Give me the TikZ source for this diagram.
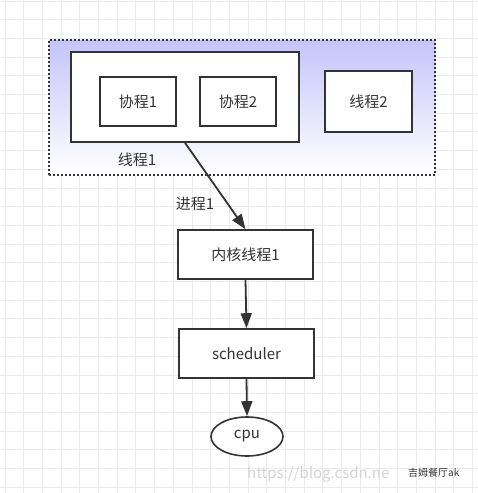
\documentclass[tikz,border=0pt]{standalone}
\usepackage{fontspec}
\setmainfont{Noto Sans CJK SC}
\usetikzlibrary{arrows.meta,positioning,shapes.geometric}
\definecolor{ink}{HTML}{333333}
\definecolor{gridc}{HTML}{EBEBEB}
\definecolor{lav}{HTML}{C4C4FB}
\definecolor{mark}{HTML}{D4D4D4}

\begin{document}
\begin{tikzpicture}[x=1pt,y=-1pt,
  box/.style={draw=ink,line width=1.6pt,fill=white,font=\fontsize{15}{17}\selectfont,text=ink},
  procbox/.style={draw=ink,line width=1.8pt,dash pattern=on 1.8pt off 2.2pt,top color=lav,bottom color=white},
  flow/.style={draw=ink,line width=1.8pt,-{Triangle[length=15pt,width=11pt]}},
  tag/.style={font=\fontsize{15}{17}\selectfont,text=ink}]
  \useasboundingbox (0,0) rectangle (478,493);
  \fill[white] (0,0) rectangle (478,493);

  % background grid
  \foreach \i in {0,...,25}
    \draw[gridc,line width=0.9pt] ({5+18.7*\i},0) -- ++(0,493);
  \foreach \j in {0,...,26}
    \draw[gridc,line width=0.9pt] (0,{1+18.7*\j}) -- ++(478,0);

  % process 1 with its threads
  \node[procbox,minimum width=386,minimum height=135] (proc) at (242,107.5) {};
  \node[box,minimum width=228,minimum height=90] (thread1) at (185,97) {};
  \node[box,minimum width=76,minimum height=49] (co1) at (138,101.5) {协程1};
  \node[box,minimum width=76,minimum height=49] (co2) at (238,101.5) {协程2};
  \node[box,minimum width=87,minimum height=61] (thread2) at (368.5,101.5) {线程2};
  \node[tag] (t1label) at (137,160) {线程1};
  \node[tag] (plabel) at (195,204) {进程1};

  % kernel side
  \node[box,minimum width=135,minimum height=49] (kthread) at (245.5,254.5) {内核线程1};
  \node[box,minimum width=135,minimum height=49] (sched) at (246.5,353.5) {scheduler};
  \node[box,ellipse,inner sep=0pt,minimum width=72,minimum height=39] (cpu) at (247,436.5) {cpu};

  \draw[flow] (thread1.south) -- (kthread.north);
  \draw[flow] (kthread.south) -- (sched.north);
  \draw[flow] (sched.south) -- (cpu.north);

  % watermark
  \node[anchor=west,inner sep=0pt,text=mark,font=\fontsize{15}{17}\selectfont] (url) at (247,474) {https://blog.csdn.ne};
  \node[anchor=west,inner sep=0pt,text=ink,font=\fontsize{10}{12}\selectfont] (wm) at (408,473) {吉姆餐厅ak};
\end{tikzpicture}
\end{document}
